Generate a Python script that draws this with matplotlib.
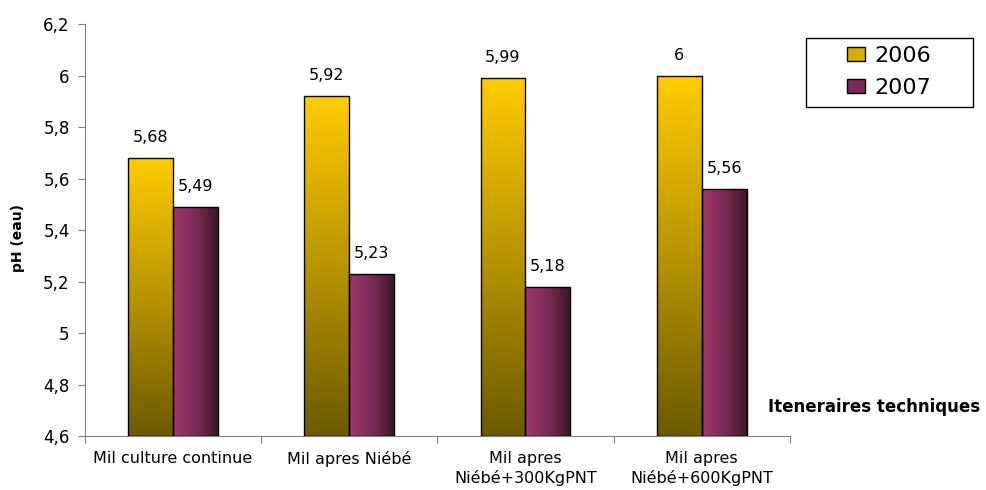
import numpy as np
import matplotlib
matplotlib.use('Agg')
import matplotlib.pyplot as plt
from matplotlib.colors import LinearSegmentedColormap
from matplotlib.patches import Patch, Rectangle

plt.rcParams['font.family'] = ['DejaVu Sans']

categories = ['Mil culture continue', 'Mil apres Niébé',
              'Mil apres\nNiébé+300KgPNT', 'Mil apres\nNiébé+600KgPNT']
ph_2006 = [5.68, 5.92, 5.99, 6.00]
ph_2007 = [5.49, 5.23, 5.18, 5.56]
years = ['2006', '2007']
yticks = [4.6, 4.8, 5.0, 5.2, 5.4, 5.6, 5.8, 6.0, 6.2]

cmap_06 = LinearSegmentedColormap.from_list('y06', ['#6b5a00', '#b89400', '#ffcc00'])
cmap_07 = LinearSegmentedColormap.from_list('y07', ['#a3386c', '#7c2a55', '#3d1828'])

def fmt(v):
    s = ('%.2f' % v).rstrip('0').rstrip('.')
    return s.replace('.', ',')

fig = plt.figure(figsize=(9.87, 4.90), dpi=100)
ax = fig.add_axes([0.0861, 0.110, 0.714, 0.841])
ymin, ymax = 4.6, 6.2
ax.set_xlim(0, len(categories))
ax.set_ylim(ymin, ymax)

w = 0.255
x = np.arange(len(categories)) + 0.5

def grad_bar(x0, h, cmap, vertical):
    bar = ax.bar(x0, h - ymin, bottom=ymin, width=w, align='edge',
                 facecolor='none', edgecolor='black', linewidth=1.0, zorder=3)[0]
    if vertical:
        g = np.linspace(0, 1, 256).reshape(-1, 1)
    else:
        g = np.linspace(0, 1, 256).reshape(1, -1)
    im = ax.imshow(g, cmap=cmap, extent=(x0, x0 + w, ymin, h), origin='lower',
                   aspect='auto', zorder=2)
    im.set_clip_path(bar)
    return bar

for i in range(len(categories)):
    grad_bar(x[i] - w, ph_2006[i], cmap_06, True)
    grad_bar(x[i], ph_2007[i], cmap_07, False)
    ax.text(x[i] - w / 2, ph_2006[i] + 0.05, fmt(ph_2006[i]), ha='center',
            va='bottom', fontsize=11.5)
    ax.text(x[i] + w / 2, ph_2007[i] + 0.05, fmt(ph_2007[i]), ha='center',
            va='bottom', fontsize=11.5)

ax.set_xlim(0, len(categories))
ax.set_ylim(ymin, ymax)
ax.set_yticks(yticks)
ax.set_yticklabels([fmt(v) for v in yticks], fontsize=12)
ax.set_xticks(np.arange(len(categories) + 1))
ax.set_xticklabels([])
ax.set_xticks(x, minor=True)
ax.set_xticklabels(categories, minor=True, fontsize=11.5, linespacing=1.25)
ax.tick_params(axis='x', which='minor', length=0, pad=11)
ax.tick_params(axis='x', which='major', length=5, color='#808080')
ax.tick_params(axis='y', length=5, color='#808080', pad=6)
for side in ['top', 'right']:
    ax.spines[side].set_visible(False)
for side in ['left', 'bottom']:
    ax.spines[side].set_color('#808080')

fig.text(0.018, 0.515, 'pH (eau)', rotation=90, ha='center', va='center',
         fontsize=10, fontweight='bold')
fig.text(0.886, 0.169, 'Iteneraires techniques', ha='center', va='center',
         fontsize=12, fontweight='bold')

# legend box drawn separately so it can be wider than its contents
fig.add_artist(Rectangle((806 / 987, 1 - 107 / 490), 167 / 987, 69 / 490,
                         transform=fig.transFigure, facecolor='white',
                         edgecolor='black', linewidth=1.0))
handles = [Patch(facecolor='#d9ad00', edgecolor='black'),
           Patch(facecolor='#7c2a55', edgecolor='black')]
fig.legend(handles, years, loc='center', bbox_to_anchor=(889 / 987, 1 - 72 / 490),
           fontsize=16, frameon=False, handlelength=0.8, handleheight=0.6,
           handletextpad=0.45, labelspacing=0.55, borderpad=0, borderaxespad=0)

fig.savefig('out.png', dpi=100)
